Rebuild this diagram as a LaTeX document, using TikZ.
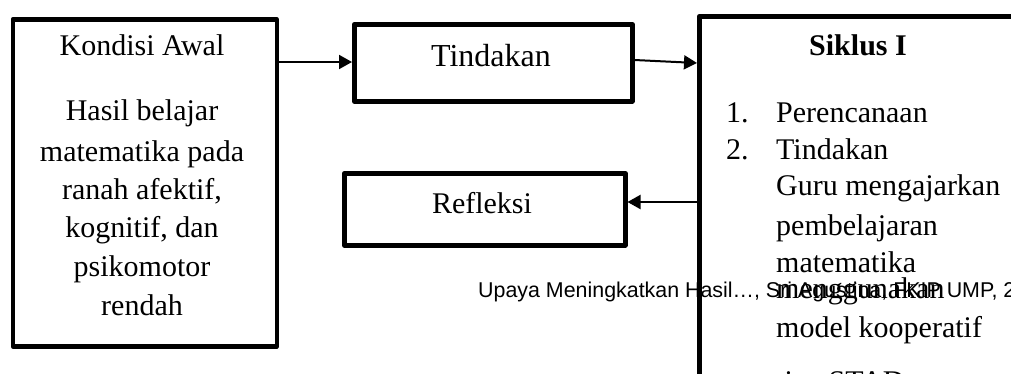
\documentclass[tikz,border=0pt]{standalone}
\usepackage{fontspec}
\setmainfont{Liberation Serif}
\newfontfamily\footfont{Liberation Sans}
\usetikzlibrary{arrows.meta}
\tikzset{
  box/.style={draw, line width=4.5pt, line join=round, inner sep=0pt},
  flow/.style={line width=2pt, -{Triangle[length=13pt,width=14pt]}},
  txt/.style={font=\fontsize{30}{36}\selectfont, inner sep=0pt, anchor=base},
  txtl/.style={txt, anchor=base west},
}
\begin{document}
\begin{tikzpicture}[x=1pt,y=-1pt]
\useasboundingbox (0,0) rectangle (1011,373);
\clip (0,0) rectangle (1011,373);
% boxes
\node[box, minimum width=264pt, minimum height=327pt, anchor=north west] (awal) at (10.5,17) {};
\node[box, minimum width=278pt, minimum height=77pt, anchor=north west] (tind) at (352,22) {};
\node[box, minimum width=281pt, minimum height=72pt, anchor=north west] (refl) at (342,171) {};
\node[box, minimum width=360pt, minimum height=420pt, anchor=north west] (siklus) at (697,14) {};
% box texts
\node[txt] (a1) at (142,55) {Kondisi Awal};
\node[txt] (a2) at (142,120) {Hasil belajar};
\node[txt] (a3) at (142,161) {matematika pada};
\node[txt] (a4) at (142,199) {ranah afektif,};
\node[txt] (a5) at (142,237) {kognitif, dan};
\node[txt] (a6) at (142,276) {psikomotor};
\node[txt] (a7) at (142,315) {rendah};
\node[txt, font=\fontsize{32}{36}\selectfont] (t1) at (491,66) {Tindakan};
\node[txt] (r1) at (482,213) {Refleksi};
\node[txt, font=\fontsize{30}{36}\selectfont\bfseries] (s0) at (858,55) {Siklus I};
\node[txtl] (n1) at (726,122) {1.};
\node[txtl] (s1) at (776,122) {Perencanaan};
\node[txtl] (n2) at (726,159) {2.};
\node[txtl] (s2) at (776,159) {Tindakan};
\node[txtl] (s3) at (776,195) {Guru mengajarkan};
\node[txtl] (s4) at (776,235) {pembelajaran};
\node[txtl] (s5) at (776,272) {matematika};
\node[txtl] (s6) at (776,298) {menggunakan};
\node[txtl] (s7) at (776,337) {model kooperatif};
\node[txtl] (s8) at (776,391) {tipe STAD};
% connectors
\draw[flow] (awal.east |- 0,62) -- (tind.west |- 0,62);
\draw[flow] (tind.east |- 0,60) -- (siklus.west |- 0,63);
\draw[flow] (siklus.west |- 0,202) -- (refl.east |- 0,202);
% running footer
\node[font=\footfont\fontsize{21.4}{24}\selectfont, inner sep=0pt, anchor=base west] (foot) at (478,297) {Upaya Meningkatkan Hasil\ldots, Sri Agustina, FKIP UMP, 2};
\end{tikzpicture}
\end{document}
